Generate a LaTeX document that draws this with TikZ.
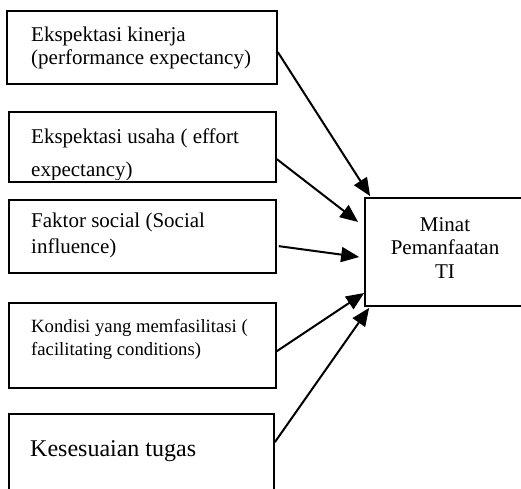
\documentclass[tikz,border=0pt]{standalone}
\usepackage{fontspec}
\setmainfont{Liberation Serif}
\usetikzlibrary{arrows.meta,calc}
\begin{document}
\begin{tikzpicture}[x=1pt,y=-1pt,
  boxs/.style={draw,line width=1.7pt,rectangle,inner sep=0pt},
  txt/.style={anchor=base west,inner sep=0pt,font=\fontsize{21}{25}\selectfont},
  txtsmall/.style={anchor=base west,inner sep=0pt,font=\fontsize{18.7}{22}\selectfont},
  txtbig/.style={anchor=base west,inner sep=0pt,font=\fontsize{24}{28}\selectfont},
  txtc/.style={anchor=base,inner sep=0pt,font=\fontsize{21}{25}\selectfont},
  arr/.style={line width=2pt,-{Triangle[length=18pt,width=15pt]}}]
\useasboundingbox (0,0) rectangle (521,488);
% boxes
\node[boxs,minimum width=270pt,minimum height=73pt] (b1) at (142,47.5) {};
\node[boxs,minimum width=267pt,minimum height=70pt] (b2) at (142.5,147) {};
\node[boxs,minimum width=267pt,minimum height=73pt] (b3) at (142.5,236.5) {};
\node[boxs,minimum width=267pt,minimum height=85pt] (b4) at (142.5,345.5) {};
\node[boxs,minimum width=265pt,minimum height=90pt] (b5) at (141.5,459) {};
\node[boxs,minimum width=170pt,minimum height=108pt] (t) at (450,252) {};
% texts
\node[txt] (l1a) at (31,41) {Ekspektasi kinerja};
\node[txt] (l1b) at (31,64) {(performance expectancy)};
\node[txt] (l2a) at (31,143) {Ekspektasi usaha ( effort};
\begin{scope}
\clip (0,0) rectangle (521,179);
\node[txt] (l2b) at (31,176) {expectancy)};
\end{scope}
\node[txt] (l3a) at (31,227) {Faktor social (Social};
\node[txt] (l3b) at (31,253) {influence)};
\node[txtsmall] (l4a) at (31,332) {Kondisi yang memfasilitasi (};
\node[txtsmall] (l4b) at (31,355) {facilitating conditions)};
\node[txtbig] (l5a) at (30,456) {Kesesuaian tugas};
\node[txtc] (ta) at (445,231) {Minat};
\node[txtc] (tb) at (445,254) {Pemanfaatan};
\node[txtc] (tc) at (445,278) {TI};
% arrows
\coordinate (e1) at ($(t.north west)+(6,-1)$);
\coordinate (e2) at ($(t.west)+(-6,-30)$);
\coordinate (e3) at ($(t.west)+(-5,5)$);
\coordinate (e4) at ($(t.west)+(0,41)$);
\coordinate (e5) at ($(t.south west)+(5,1)$);
\draw[arr] ($(b1.north east)+(0,42)$) -- (e1);
\draw[arr] ($(b2.north east)+(0,48)$) -- (e2);
\draw[arr] ($(b3.north east)+(2,47)$) -- (e3);
\draw[arr] ($(b4.north east)+(0,49)$) -- (e4);
\draw[arr] ($(b5.north east)+(0,29)$) -- (e5);
\end{tikzpicture}
\end{document}
